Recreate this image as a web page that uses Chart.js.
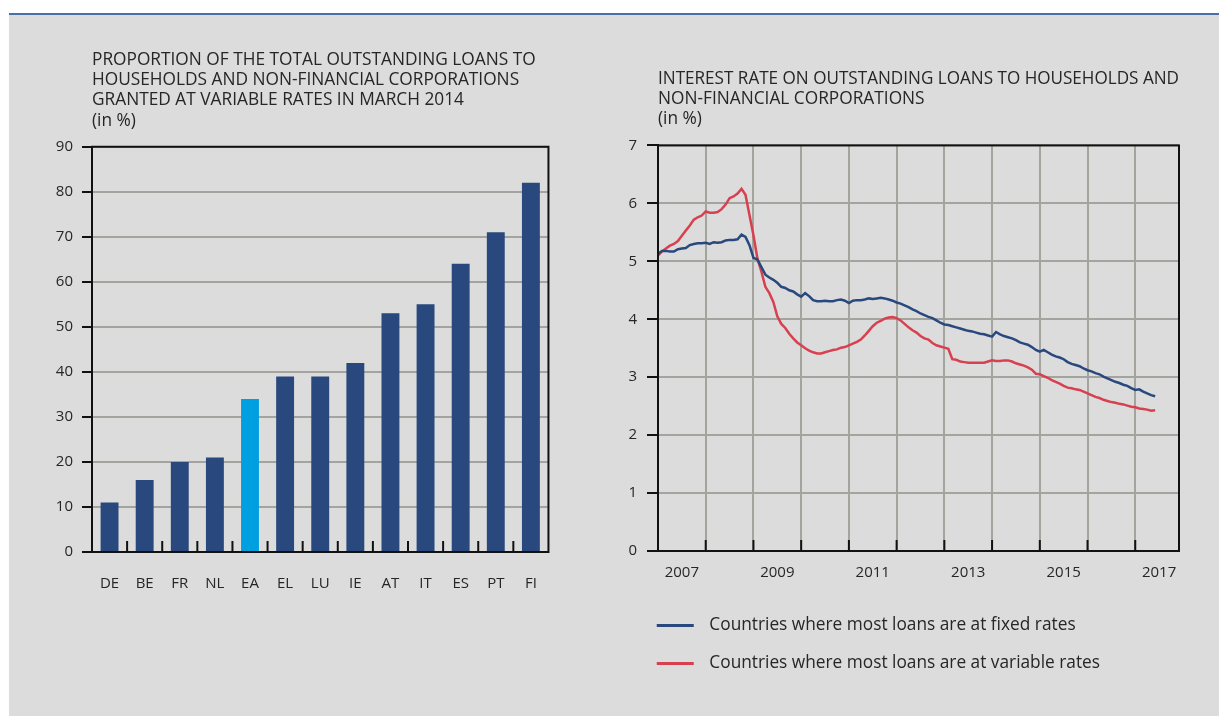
<!DOCTYPE html>
<html>
<head>
<meta charset="utf-8">
<title>Variable-rate lending and loan interest rates</title>
<script src="https://cdn.jsdelivr.net/npm/chart.js"></script>
<style>
    body { margin: 0; background: #fff; }
    #panel {
        position: absolute; left: 9px; top: 13px; width: 1210px; height: 701px;
        background: #dcdcdc; border-top: 2px solid #4a6ea8;
    }
    #barChart { position: absolute; left: 52px; top: 30px; }
    #rateChart { position: absolute; left: 600px; top: 30px; }
</style>
</head>
<body>
<div id="panel"></div>
<canvas id="barChart" width="500" height="562"></canvas>
<canvas id="rateChart" width="600" height="652"></canvas>

<script>
    // left panel: share of loans at variable rates, March 2014 (in %)
    const countries = ['DE', 'BE', 'FR', 'NL', 'EA', 'EL', 'LU', 'IE', 'AT', 'IT', 'ES', 'PT', 'FI'];
    const variableShare = [11, 16, 20, 21, 34, 39, 39, 42, 53, 55, 64, 71, 82];
    const shareTicks = [0, 10, 20, 30, 40, 50, 60, 70, 80, 90];

    // right panel: monthly interest rates, Jan 2007 onwards (in %)
    const firstYear = 2007;
    const fixedRates = [
        5.13, 5.18, 5.18, 5.17, 5.17, 5.21, 5.22, 5.23, 5.28, 5.30, 5.31, 5.31,
        5.32, 5.30, 5.33, 5.32, 5.33, 5.36, 5.37, 5.37, 5.38, 5.46, 5.42, 5.28,
        5.06, 5.03, 4.90, 4.77, 4.72, 4.68, 4.63, 4.56, 4.54, 4.50, 4.48, 4.43,
        4.39, 4.45, 4.40, 4.33, 4.31, 4.31, 4.32, 4.31, 4.31, 4.33, 4.34, 4.32,
        4.28, 4.32, 4.33, 4.33, 4.34, 4.36, 4.35, 4.36, 4.37, 4.36, 4.34, 4.32,
        4.29, 4.27, 4.24, 4.21, 4.17, 4.14, 4.10, 4.07, 4.04, 4.02, 3.98, 3.94,
        3.91, 3.90, 3.88, 3.86, 3.84, 3.82, 3.80, 3.79, 3.77, 3.75, 3.74, 3.72,
        3.70, 3.78, 3.74, 3.71, 3.69, 3.67, 3.64, 3.60, 3.58, 3.56, 3.52, 3.47,
        3.44, 3.47, 3.43, 3.39, 3.36, 3.34, 3.31, 3.26, 3.23, 3.21, 3.19, 3.15,
        3.12, 3.10, 3.07, 3.05, 3.01, 2.98, 2.95, 2.92, 2.90, 2.87, 2.85, 2.81,
        2.78, 2.79, 2.75, 2.72, 2.69, 2.67
    ];
    const variableRates = [
        5.10, 5.17, 5.22, 5.27, 5.30, 5.35, 5.44, 5.53, 5.62, 5.72, 5.76, 5.79,
        5.86, 5.84, 5.84, 5.85, 5.90, 5.98, 6.09, 6.12, 6.17, 6.25, 6.15, 5.80,
        5.45, 5.05, 4.82, 4.56, 4.45, 4.30, 4.05, 3.92, 3.85, 3.75, 3.67, 3.60,
        3.55, 3.50, 3.46, 3.43, 3.41, 3.41, 3.43, 3.45, 3.47, 3.48, 3.51, 3.52,
        3.55, 3.58, 3.61, 3.65, 3.72, 3.80, 3.88, 3.94, 3.97, 4.01, 4.03, 4.04,
        4.02, 3.98, 3.92, 3.86, 3.81, 3.77, 3.71, 3.67, 3.65, 3.59, 3.55, 3.53,
        3.51, 3.49, 3.31, 3.30, 3.27, 3.26, 3.25, 3.25, 3.25, 3.25, 3.25, 3.27,
        3.29, 3.28, 3.28, 3.29, 3.29, 3.27, 3.24, 3.22, 3.20, 3.17, 3.13, 3.06,
        3.05, 3.02, 2.99, 2.95, 2.92, 2.89, 2.85, 2.82, 2.81, 2.79, 2.78, 2.75,
        2.72, 2.69, 2.66, 2.64, 2.61, 2.59, 2.57, 2.56, 2.54, 2.53, 2.51, 2.49,
        2.48, 2.46, 2.45, 2.44, 2.42, 2.43
    ];
    const gridYears = [2008, 2009, 2010, 2011, 2012, 2013, 2014, 2015, 2016, 2017];
    const labelYears = [2007, 2009, 2011, 2013, 2015, 2017];
    const rateTicks = [0, 1, 2, 3, 4, 5, 6, 7];

    const leftTitle = [
        'PROPORTION OF THE TOTAL OUTSTANDING LOANS TO',
        'HOUSEHOLDS AND NON-FINANCIAL CORPORATIONS',
        'GRANTED AT VARIABLE RATES IN MARCH 2014',
        '(in %)'
    ];
    const rightTitle = [
        'INTEREST RATE ON OUTSTANDING LOANS TO HOUSEHOLDS AND',
        'NON-FINANCIAL CORPORATIONS',
        '(in %)'
    ];
    const seriesNames = [
        'Countries where most loans are at fixed rates',
        'Countries where most loans are at variable rates'
    ];

    const navy = '#29487d';
    const lightBlue = '#009fdf';
    const red = '#d7404f';
    const gridGray = '#a4a49f';
    const textColor = '#262626';

    Chart.defaults.font.family = "'Open Sans', sans-serif";
    Chart.defaults.font.size = 15;
    Chart.defaults.color = textColor;
    Chart.defaults.animation = false;

    // legend marker: a short line sitting a bit right of the legend's own start
    function legendLine(color) {
        const c = document.createElement('canvas');
        c.width = 57;
        c.height = 3;
        const g = c.getContext('2d');
        g.fillStyle = color;
        g.fillRect(13, 0, 37, 3);
        return c;
    }

    // black box round the plot area
    const framePlugin = {
        id: 'frame',
        afterDraw(chart) {
            const a = chart.chartArea;
            const ctx = chart.ctx;
            ctx.save();
            ctx.strokeStyle = '#111';
            ctx.lineWidth = 2;
            ctx.strokeRect(a.left, a.top, a.right - a.left, a.bottom - a.top);
            ctx.restore();
        }
    };

    // short tick marks pointing up from the x axis
    function innerTicks(getPositions) {
        return {
            id: 'innerTicks',
            afterDraw(chart) {
                const ctx = chart.ctx;
                const bottom = chart.chartArea.bottom;
                ctx.save();
                ctx.strokeStyle = '#111';
                ctx.lineWidth = 2;
                ctx.beginPath();
                getPositions(chart).forEach(px => {
                    ctx.moveTo(px, bottom);
                    ctx.lineTo(px, bottom - 11);
                });
                ctx.stroke();
                ctx.restore();
            }
        };
    }

    const titleFont = { size: 17.3, weight: 'normal', lineHeight: 1.18 };

    new Chart(document.getElementById('barChart'), {
        type: 'bar',
        data: {
            labels: countries,
            datasets: [{
                data: variableShare,
                backgroundColor: countries.map(c => c === 'EA' ? lightBlue : navy),
                barPercentage: 0.51,
                categoryPercentage: 1
            }]
        },
        options: {
            responsive: false,
            layout: { padding: 0 },
            plugins: {
                legend: { display: false },
                tooltip: { enabled: false },
                title: {
                    display: true,
                    text: leftTitle,
                    align: 'start',
                    fullSize: false,
                    color: textColor,
                    font: titleFont,
                    padding: { top: 19.5, bottom: 15.6 }
                }
            },
            scales: {
                x: {
                    grid: { display: false },
                    border: { display: true, color: '#111', width: 2 },
                    ticks: { padding: 15, maxRotation: 0, autoSkip: false },
                    afterFit(scale) { scale.height = 40; }
                },
                y: {
                    min: 0,
                    max: 90,
                    afterBuildTicks(scale) { scale.ticks = shareTicks.map(v => ({ value: v })); },
                    grid: { color: gridGray, lineWidth: 2, tickColor: '#111', tickWidth: 2, tickLength: 10 },
                    border: { display: true, color: '#111', width: 2 },
                    ticks: { padding: 9 },
                    afterFit(scale) { scale.width = 40; }
                }
            }
        },
        plugins: [framePlugin, innerTicks(chart => {
            const x = chart.scales.x;
            const out = [];
            for (let i = 1; i < countries.length; i++) {
                out.push((x.getPixelForValue(i - 1) + x.getPixelForValue(i)) / 2);
            }
            return out;
        })]
    });

    const toPoints = series => series.map((v, i) => ({ x: firstYear + i / 12, y: v }));

    new Chart(document.getElementById('rateChart'), {
        type: 'line',
        data: {
            datasets: [{
                label: seriesNames[0],
                data: toPoints(fixedRates),
                borderColor: navy,
                backgroundColor: navy,
                borderWidth: 2.5,
                pointRadius: 0,
                pointStyle: legendLine(navy),
                tension: 0
            }, {
                label: seriesNames[1],
                data: toPoints(variableRates),
                borderColor: red,
                backgroundColor: red,
                borderWidth: 2.5,
                pointRadius: 0,
                pointStyle: legendLine(red),
                tension: 0
            }]
        },
        options: {
            responsive: false,
            layout: { padding: { left: 23, right: 21, top: 0, bottom: 0 } },
            plugins: {
                tooltip: { enabled: false },
                legend: {
                    position: 'bottom',
                    align: 'start',
                    labels: {
                        usePointStyle: true,
                        pointStyleWidth: 57,
                        padding: 20.7,
                        color: textColor,
                        font: { size: 17.3 }
                    }
                },
                title: {
                    display: true,
                    text: rightTitle,
                    align: 'start',
                    fullSize: false,
                    color: textColor,
                    font: titleFont,
                    padding: { top: 38.5, bottom: 15.7 }
                }
            },
            scales: {
                x: {
                    type: 'linear',
                    min: firstYear,
                    max: 2017 + 11 / 12,
                    afterBuildTicks(scale) {
                        const vals = gridYears.concat(labelYears.map(y => y + 0.5)).sort((a, b) => a - b);
                        scale.ticks = vals.map(v => ({ value: v }));
                    },
                    grid: {
                        color: ctx => (ctx.tick && Number.isInteger(ctx.tick.value)) ? gridGray : 'transparent',
                        lineWidth: 2,
                        drawTicks: false
                    },
                    border: { display: true, color: '#111', width: 2 },
                    ticks: {
                        padding: 13,
                        maxRotation: 0,
                        autoSkip: false,
                        callback: v => labelYears.includes(v - 0.5) ? String(v - 0.5) : ''
                    },
                    afterFit(scale) { scale.height = 45; }
                },
                y: {
                    min: 0,
                    max: 7,
                    afterBuildTicks(scale) { scale.ticks = rateTicks.map(v => ({ value: v })); },
                    grid: { color: gridGray, lineWidth: 2, tickColor: '#111', tickWidth: 2, tickLength: 11 },
                    border: { display: true, color: '#111', width: 2 },
                    ticks: { padding: 10 },
                    afterFit(scale) { scale.width = 35; }
                }
            }
        },
        plugins: [framePlugin, innerTicks(chart => {
            const x = chart.scales.x;
            return gridYears.map(y => x.getPixelForValue(y));
        })]
    });
</script>
</body>
</html>
